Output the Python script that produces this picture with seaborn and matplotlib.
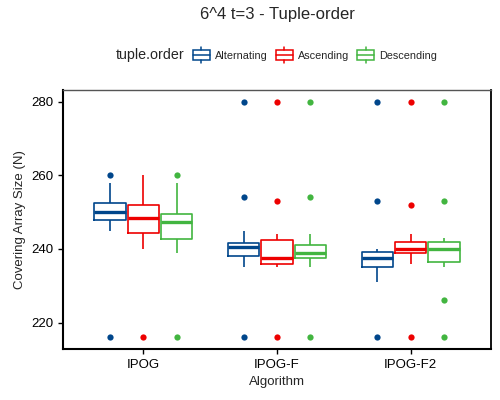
import numpy as np
import pandas as pd
import matplotlib
matplotlib.use("Agg")
import matplotlib.pyplot as plt
import seaborn as sns
from matplotlib.patches import Rectangle, Patch
from matplotlib.lines import Line2D
from matplotlib.legend_handler import HandlerBase

algorithms = ["IPOG", "IPOG-F", "IPOG-F2"]
orders = ["Alternating", "Ascending", "Descending"]
palette = ["#00468B", "#ED0000", "#42B540"]

# covering array sizes (13 runs per box)
ipog_alt = [216, 245, 246.5, 248, 249, 249.5, 250, 251, 252, 252.4, 254, 258, 260]
ipog_asc = [216, 240, 242, 244.4, 246, 247.5, 248.5, 249.5, 251, 251.9, 254, 257, 260]
ipog_desc = [216, 239, 241, 242.6, 244, 246, 247.3, 248, 249, 249.4, 252, 258, 260]
ipogf_alt = [216, 235, 237, 238, 239, 240, 240.4, 241, 241.2, 241.5, 245, 254, 280]
ipogf_asc = [216, 235, 235.5, 236, 236.5, 237, 237.4, 239, 241, 242.3, 244, 253, 280]
ipogf_desc = [216, 235, 236, 237.4, 238, 238.5, 239, 240, 240.5, 241, 244, 254, 280]
ipogf2_alt = [216, 231, 233, 235, 236, 237, 237.5, 238, 239, 239.2, 240, 253, 280]
ipogf2_asc = [216, 236, 237, 238.8, 239, 239.5, 240, 241, 241.5, 242, 244, 252, 280]
ipogf2_desc = [216, 226, 235, 236.4, 238, 239, 240, 241, 241.5, 242, 243, 253, 280]

series = {
    ("IPOG", "Alternating"): ipog_alt,
    ("IPOG", "Ascending"): ipog_asc,
    ("IPOG", "Descending"): ipog_desc,
    ("IPOG-F", "Alternating"): ipogf_alt,
    ("IPOG-F", "Ascending"): ipogf_asc,
    ("IPOG-F", "Descending"): ipogf_desc,
    ("IPOG-F2", "Alternating"): ipogf2_alt,
    ("IPOG-F2", "Ascending"): ipogf2_asc,
    ("IPOG-F2", "Descending"): ipogf2_desc,
}

rows = []
for (alg, order), vals in series.items():
    for v in vals:
        rows.append({"Algorithm": alg, "tuple.order": order, "N": v})
df = pd.DataFrame(rows)


class BoxKey(HandlerBase):
    # small boxplot glyph like the ggplot legend key (sizes in points)
    def create_artists(self, legend, orig_handle, xdescent, ydescent,
                       width, height, fontsize, trans):
        c = orig_handle.get_edgecolor()
        x0, x1 = -xdescent + 0.5, -xdescent + width - 0.5
        cy = -ydescent + height / 2
        cx = (x0 + x1) / 2
        hb, hw = 3.6, 6.1
        rect = Rectangle((x0, cy - hb), x1 - x0, 2 * hb, fill=False,
                         edgecolor=c, linewidth=1.1, transform=trans)
        med = Line2D([x0, x1], [cy, cy], color=c, lw=1.1, transform=trans)
        top = Line2D([cx, cx], [cy + hb, cy + hw], color=c, lw=1.1, transform=trans)
        bot = Line2D([cx, cx], [cy - hw, cy - hb], color=c, lw=1.1, transform=trans)
        return [rect, med, top, bot]


sns.set_style("white")
plt.rcParams["font.family"] = ["Liberation Sans", "DejaVu Sans"]

fig, ax = plt.subplots(figsize=(5, 4), dpi=100)
fig.subplots_adjust(left=63 / 500, right=491 / 500, top=1 - 90 / 400, bottom=1 - 349 / 400)

sns.boxplot(data=df, x="Algorithm", y="N", hue="tuple.order", order=algorithms,
            hue_order=orders, palette=palette, fill=False, width=0.75, gap=0.06,
            linewidth=1.2, medianprops={"linewidth": 2.4}, showcaps=False,
            flierprops={"marker": "o", "markersize": 4.5, "markeredgewidth": 0},
            legend=False, ax=ax)

# solid outlier dots
for ln in ax.lines:
    if ln.get_marker() == "o":
        ln.set_markerfacecolor(ln.get_markeredgecolor())
        ln.set_markeredgewidth(0)

ax.set_xlim(-0.6, 2.6)
ax.set_ylim(212.8, 283.2)
ax.set_yticks([220, 240, 260, 280])
ax.set_xlabel("Algorithm", fontsize=9.5)
ax.set_ylabel("Covering Array Size (N)", fontsize=9.5)
ax.tick_params(axis="both", labelsize=9.5, length=3.5, width=1, color="black",
               labelcolor="black", direction="out", left=True, bottom=True)

for side in ["left", "bottom"]:
    ax.spines[side].set_color("black")
    ax.spines[side].set_linewidth(1.5)
ax.spines["right"].set_color("black")
ax.spines["right"].set_linewidth(1.3)
ax.spines["top"].set_color("#555555")
ax.spines["top"].set_linewidth(1.0)

fig.suptitle("6^4 t=3 - Tuple-order", x=0.554, y=0.982, fontsize=12)

fig.text(116 / 500, 1 - 55 / 400, "tuple.order", fontsize=10.3, va="center", ha="left")
handles = [Patch(edgecolor=c, facecolor="none") for c in palette]
fig.legend(handles, orders, handler_map={Patch: BoxKey()}, ncol=3,
           loc="center left", bbox_to_anchor=(192 / 500, 1 - 55 / 400),
           frameon=False, fontsize=7.8, handlelength=1.7, handleheight=1.6,
           handletextpad=0.4, columnspacing=0.7, borderaxespad=0, borderpad=0)

fig.savefig("out.png", dpi=100)
